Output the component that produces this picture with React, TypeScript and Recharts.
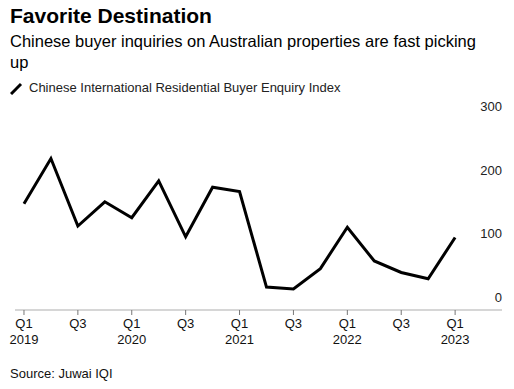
import { LineChart, Line, XAxis, YAxis } from "recharts";

const quarters = ["Q1", "Q2", "Q3", "Q4", "Q1", "Q2", "Q3", "Q4", "Q1", "Q2", "Q3", "Q4", "Q1", "Q2", "Q3", "Q4", "Q1"];
const years = ["2019", "2019", "2019", "2019", "2020", "2020", "2020", "2020", "2021", "2021", "2021", "2021", "2022", "2022", "2022", "2022", "2023"];
const enquiryIndex = [147, 218, 112, 150, 125, 183, 95, 173, 166, 16, 13, 45, 110, 57, 39, 29, 94];
const xTicks = [0, 2, 4, 6, 8, 10, 12, 14, 16];
const yTicks = [0, 100, 200, 300];

const data = enquiryIndex.map((v, i) => ({ i, value: v }));

const FONT = '"Liberation Sans", Arial, Helvetica, sans-serif';

function QuarterTick(props: any) {
  const { x, y, payload } = props;
  const idx = payload.value as number;
  const q = quarters[idx];
  return (
    <g>
      <text x={x} y={y + 11} textAnchor="middle" fontSize={13} fill="#111" fontFamily={FONT}>
        {q}
      </text>
      {q === "Q1" && (
        <text x={x} y={y + 27} textAnchor="middle" fontSize={13} fill="#111" fontFamily={FONT}>
          {years[idx]}
        </text>
      )}
    </g>
  );
}

export default function App() {
  return (
    <div
      style={{
        position: "absolute",
        left: 0,
        top: 0,
        width: 514,
        height: 389,
        background: "#fff",
        fontFamily: FONT,
        color: "#000",
        overflow: "hidden",
      }}
    >
      <div style={{ position: "absolute", left: 10, top: 3, fontSize: 21, fontWeight: 700, lineHeight: "26px" }}>
        Favorite Destination
      </div>
      <div style={{ position: "absolute", left: 10, top: 31, width: 484, fontSize: 16.5, lineHeight: "20.5px" }}>
        Chinese buyer inquiries on Australian properties are fast picking up
      </div>
      <div style={{ position: "absolute", left: 10, top: 80, display: "flex", alignItems: "center", fontSize: 13, color: "#222" }}>
        <svg width={14} height={14} style={{ marginRight: 5 }}>
          <line x1={1} y1={13} x2={11} y2={3} stroke="#000" strokeWidth={3} />
        </svg>
        Chinese International Residential Buyer Enquiry Index
      </div>

      <div style={{ position: "absolute", left: 0, top: 90 }}>
        <LineChart width={514} height={260} data={data} margin={{ top: 10, right: 12, left: 15, bottom: 0 }}>
          <XAxis
            dataKey="i"
            type="number"
            domain={[-0.333, 17.74]}
            ticks={xTicks}
            height={40}
            axisLine={{ stroke: "#c8c8c8", strokeWidth: 1.5 }}
            tickLine={{ stroke: "#777" }}
            tickSize={5}
            tickMargin={2}
            tick={<QuarterTick />}
            interval={0}
          />
          <YAxis
            orientation="right"
            mirror
            domain={[-20, 310]}
            ticks={yTicks}
            axisLine={false}
            tickLine={false}
            tickSize={0}
            tickMargin={0}
            tick={{ fill: "#222", fontSize: 13, fontFamily: FONT }}
            allowDataOverflow
          />
          <Line
            dataKey="value"
            type="linear"
            stroke="#000"
            strokeWidth={3}
            dot={false}
            activeDot={false}
            isAnimationActive={false}
          />
        </LineChart>
      </div>

      <div style={{ position: "absolute", left: 10, top: 366, fontSize: 13, color: "#111" }}>
        Source: Juwai IQI
      </div>
    </div>
  );
}
